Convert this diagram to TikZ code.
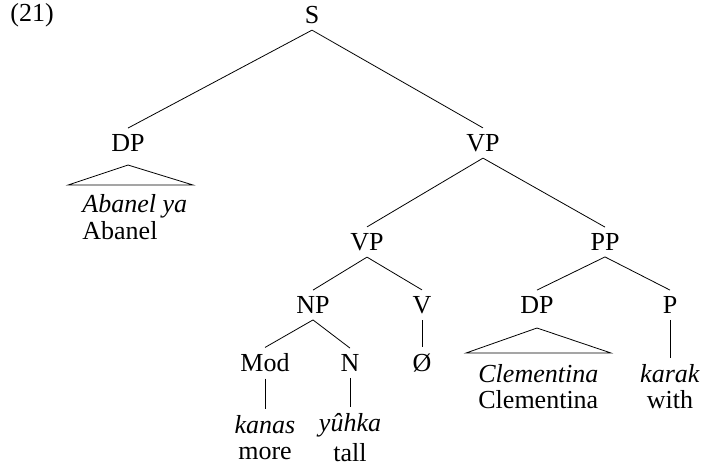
\documentclass[tikz,border=0pt]{standalone}
\usepackage{fontspec}
\setmainfont{Liberation Serif}
\begin{document}
\begin{tikzpicture}[x=0.5pt,y=-0.5pt,
    every node/.style={font=\fontsize{13}{15}\selectfont, inner sep=3pt},
    gloss/.style={anchor=west}]
    \useasboundingbox (0,0) rectangle (702,473);

    % Example number and root
    \node[anchor=west] (num) at (4,15) {(21)};
    \node (s) at (312,15) {S};

    % First level
    \node (dpa) at (128,143) {DP};
    \node (vpa) at (483,143) {VP};
    \draw (s.south) -- (dpa.north);
    \draw (s.south) -- (vpa.north);

    % Subject under a triangle
    \coordinate (tria) at (128,165);
    \coordinate (trial) at (68,185);
    \coordinate (triar) at (193,185);
    \draw (tria) -- (trial) -- (triar) -- cycle;
    \node[gloss] (abanelya) at (76,206) {\textit{Abanel ya}};
    \node[gloss] (abanel) at (76,231) {Abanel};

    % Second level
    \node (vpb) at (367,242) {VP};
    \node (pp) at (605,242) {PP};
    \draw (vpa.south) -- (vpb.north);
    \draw (vpa.south) -- (pp.north);

    % Third level
    \node (np) at (313,305) {NP};
    \node (v) at (422,305) {V};
    \node (dpb) at (537,305) {DP};
    \node (p) at (670,305) {P};
    \draw (vpb.south) -- (np.north);
    \draw (vpb.south) -- (v.north);
    \draw (pp.south) -- (dpb.north);
    \draw (pp.south) -- (p.north);

    % Fourth level
    \node (mod) at (265,363) {Mod};
    \node (n) at (350,363) {N};
    \node (null) at (422,363) {Ø};
    \draw (np.south) -- (mod.north);
    \draw (np.south) -- (n.north);
    \draw (v.south) -- (null.north);

    % Object under a triangle
    \coordinate (trib) at (537,328);
    \coordinate (tribl) at (466,353);
    \coordinate (tribr) at (611,353);
    \draw (trib) -- (tribl) -- (tribr) -- cycle;
    \node[gloss] (clemita) at (472,374) {\textit{Clementina}};
    \node[gloss] (clem) at (472,400) {Clementina};

    % Postposition
    \node (karak) at (670,374) {\textit{karak}};
    \node (with) at (670,400) {with};
    \draw (p.south) -- (karak.north);

    % Words
    \node (kanas) at (265,425) {\textit{kanas}};
    \node (more) at (265,453) {more};
    \node (yuhka) at (350,425) {\textit{yûhka}};
    \node (tall) at (350,453) {tall};
    \draw (mod.south) -- (kanas.north);
    \draw (n.south) -- (yuhka.north);
\end{tikzpicture}
\end{document}
